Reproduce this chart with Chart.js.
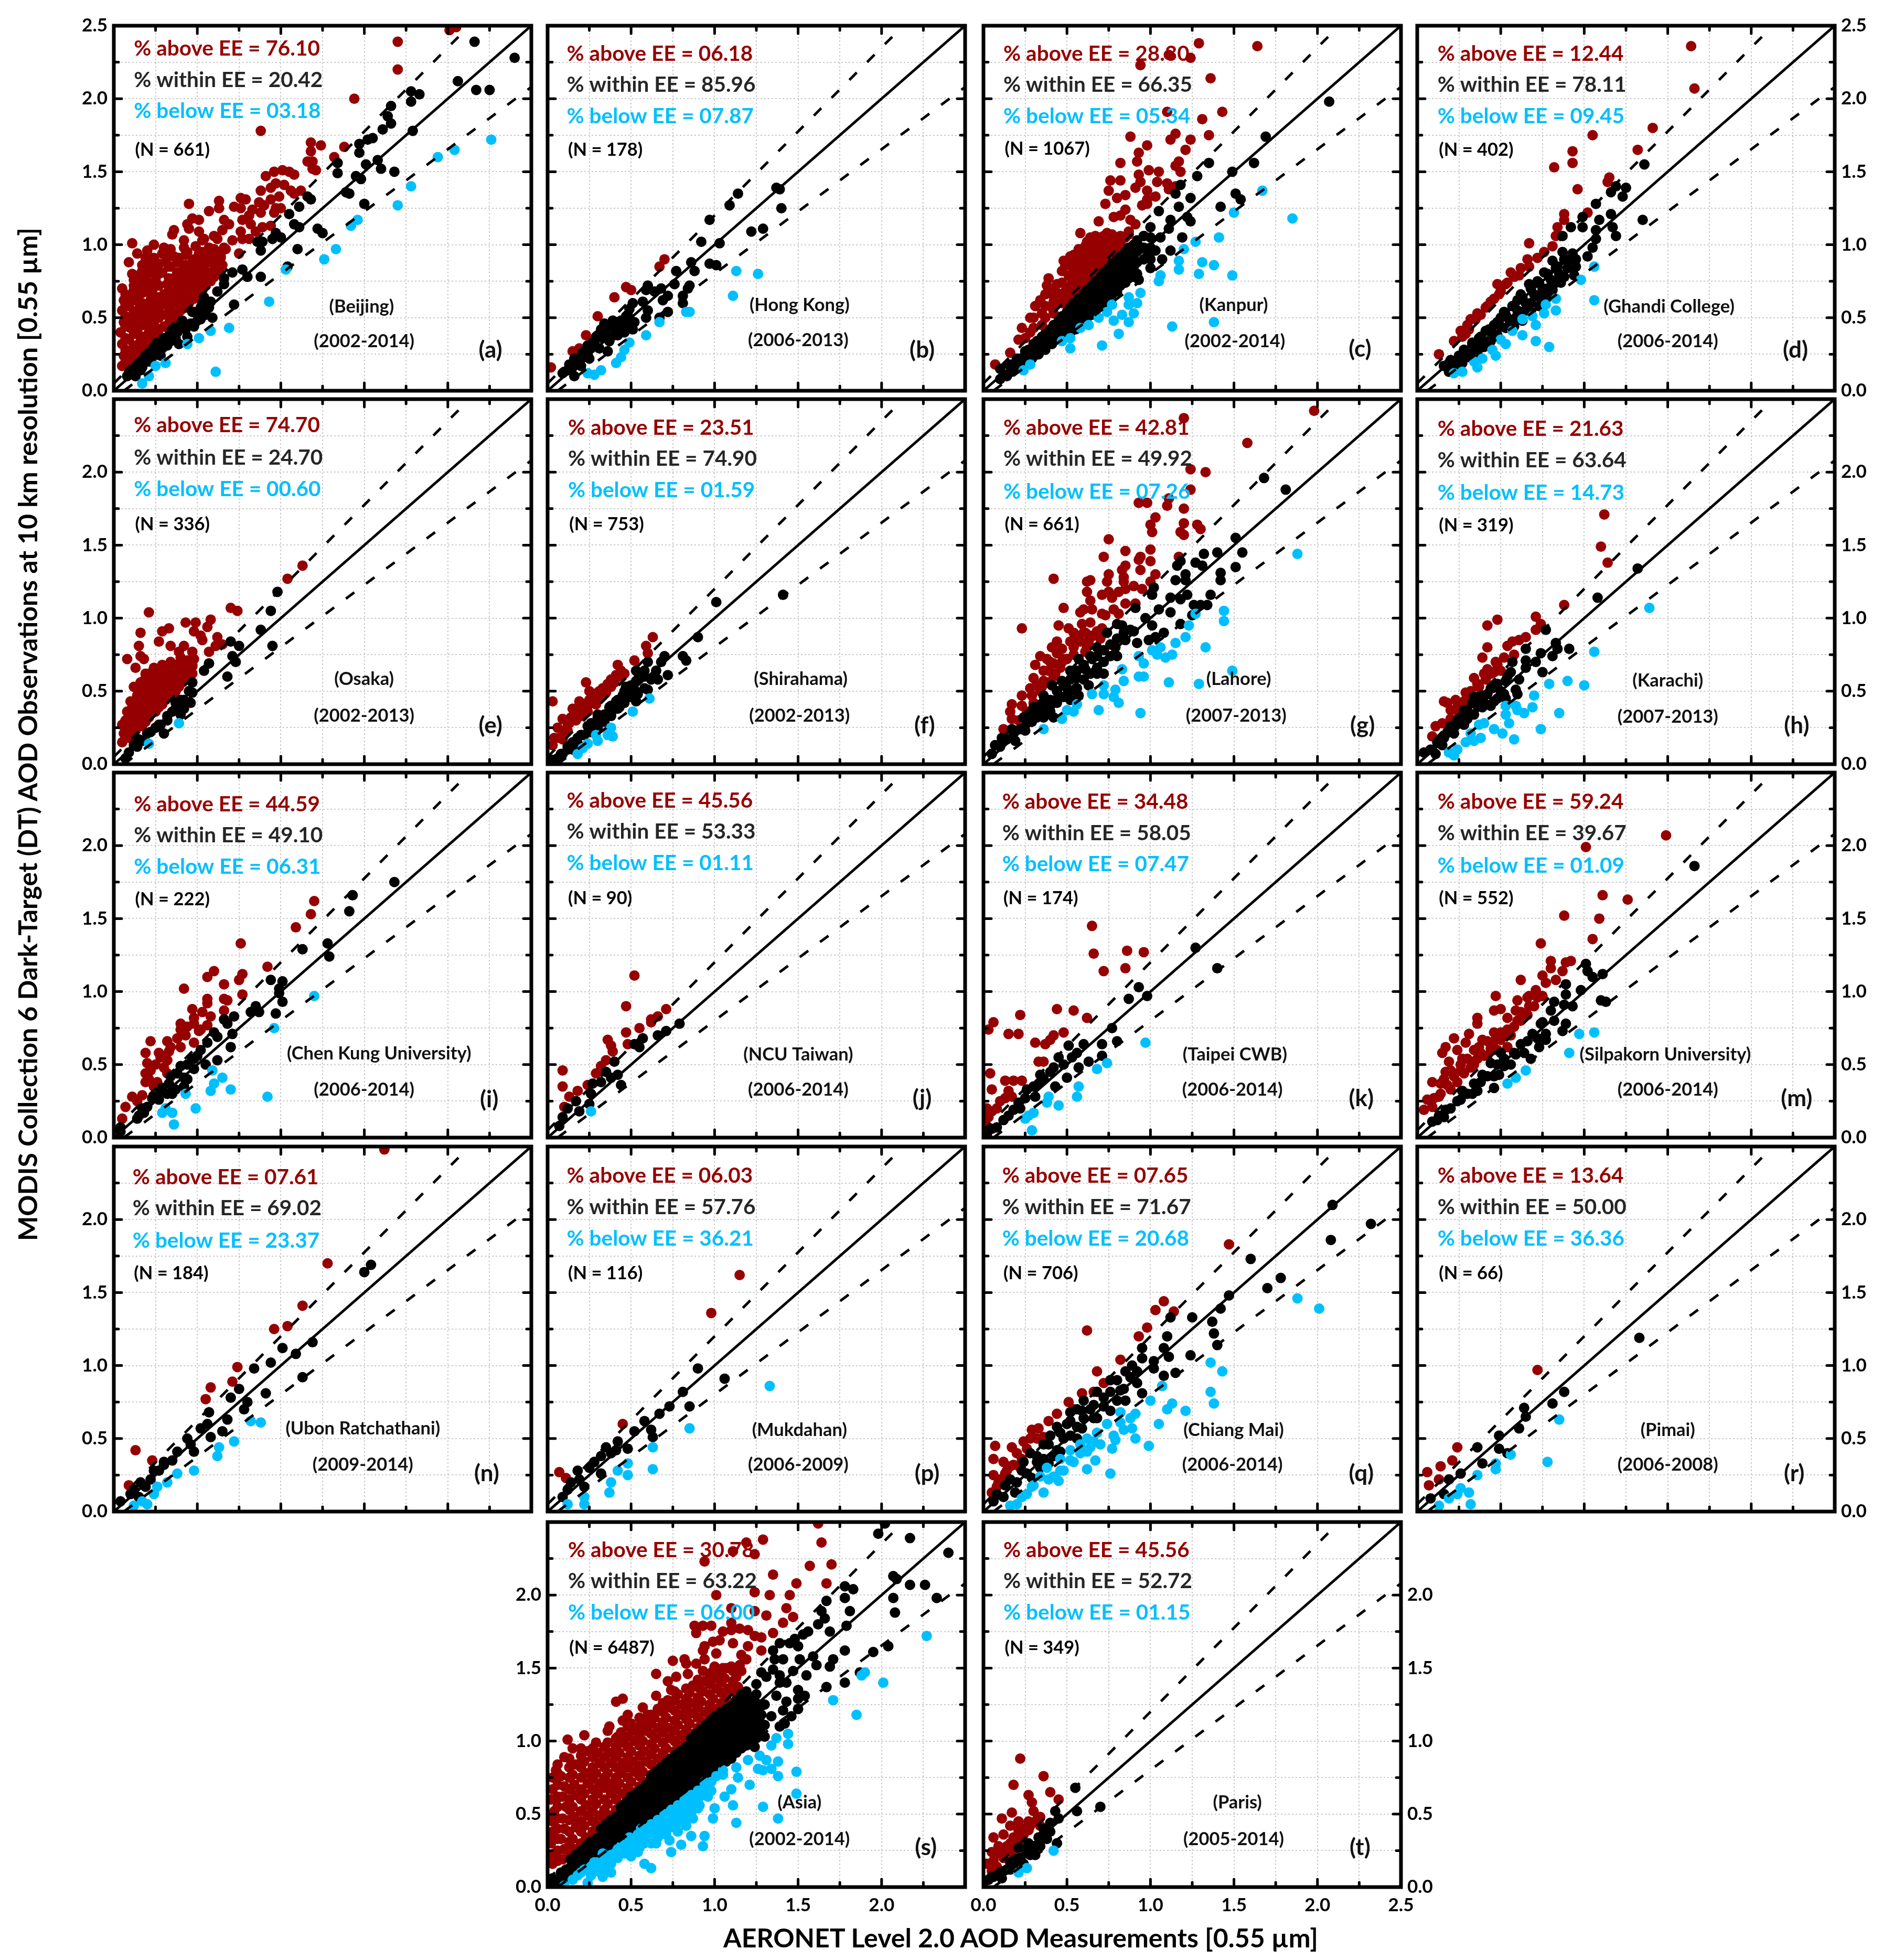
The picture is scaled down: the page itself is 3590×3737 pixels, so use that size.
<!DOCTYPE html>
<html>
<head>
<meta charset="utf-8">
<title>MODIS C6 DT vs AERONET</title>
<script src="https://cdn.jsdelivr.net/npm/chart.js@4"></script>
<style>
  html, body { margin: 0; background: #fff; }
  #page { position: relative; width: 3590px; height: 3737px; overflow: hidden; background: #fff; }
  canvas { position: absolute; }
  .axis-title { position: absolute; font: 700 50px Lato, sans-serif; color: #000; white-space: nowrap; }
</style>
</head>
<body>
<div id="page"></div>
<script>
// all scatter values are x,y pairs in hundredths of AOD
const aAbove = [201,247,205,249,170,239,170,220,144,200,88,178,118,170,124,168,118,164,138,167,132,160,116,157,119,157,119,152,121,151,91,147,96,150,101,151,105,150,108,148,97,142,94,139,88,137,102,141,106,137,108,135,112,137,99,133,94,131,87,129,76,132,79,131,63,130,63,125,45,128,57,123,72,126,76,125,83,124,90,127,97,125,100,125,96,122,88,122,81,120,77,117,82,114,89,112,94,113,85,109,76,109,81,104,77,104,71,103,47,118,51,117,44,114,45,111,36,110,35,107,42,103,66,117,69,114,65,110,60,106,51,109,53,103,67,97,75,94,11,101,14,94,9,88,20,96,24,100,30,98,34,97,42,98,51,94,59,96,64,91,5,17,6,24,5,32,4,40,6,47,5,55,6,62,5,70,10,20,11,27,9,35,10,43,11,50,9,58,10,65,12,72,11,80,15,26,16,34,14,41,16,49,15,56,14,64,16,71,15,79,17,86,20,32,21,40,19,47,20,55,22,62,20,70,19,77,21,85,19,91,25,38,24,46,26,54,25,61,23,68,25,76,26,84,24,91,30,44,31,52,29,59,30,66,32,73,29,81,31,88,29,94,35,48,34,56,36,64,35,71,37,78,34,85,36,92,40,55,41,63,39,70,40,77,42,84,39,91,45,60,44,68,46,74,45,81,47,88,44,95,50,66,49,72,51,79,50,85,52,92,49,99,55,72,56,78,54,85,55,92,57,98,54,104,60,78,61,84,59,91,60,97,62,104,65,86,64,92,66,98];
const aAboveFill = [7,20,7,28,7,36,7,44,7,51,7,59,7,66,12,24,12,31,12,39,12,47,12,54,12,62,12,69,12,76,17,30,17,37,17,45,17,52,17,60,17,67,17,75,17,82,22,36,22,44,22,51,22,58,22,66,22,73,22,81,22,88,27,42,27,50,27,57,27,64,27,72,27,80,27,87,33,46,33,54,33,62,33,69,33,77,33,85,33,92,38,52,38,60,38,67,38,74,38,81,38,88,43,57,43,65,43,72,43,79,43,86,43,93,48,63,48,70,48,77,48,83,48,90,53,69,53,75,53,82,53,88,53,95,58,75,58,81,58,88,58,94,63,82,63,88,63,95];
const aWithin = [216,239,240,228,206,212,217,206,225,206,178,205,183,203,178,198,166,195,164,188,166,183,161,179,179,178,155,173,152,172,147,169,147,163,151,155,158,158,160,152,168,150,134,156,134,149,145,147,148,145,139,136,141,135,150,128,116,133,118,131,111,126,105,121,108,114,111,112,122,111,125,108,110,97,97,108,100,105,95,104,89,102,86,102,88,96,104,85,77,83,80,78,71,81,66,77,66,73,88,78,54,64,58,61,52,57,47,54,72,59,59,50,52,49,48,44,43,44,39,44,44,37,39,32,33,38,26,33,21,26,17,21,9,12,13,10,8,10,10,14,13,12,14,18,17,16,19,24,21,20,24,30,26,26,28,24,30,36,32,31,35,42,37,36,41,48,43,42,48,54,50,48,53,60,55,52];
const aWithinFill = [12,11,16,14,23,23,29,29,34,34,38,40,46,46,51,52,57,57,62,68];
const aBelow = [226,172,204,165,194,160,178,140,170,127,146,117,142,113,133,97,126,90,103,83,93,61,69,43,58,41,51,36,44,32,31,19,25,17,21,10,17,5,61,13];

const bAbove = [2,16,15,27,19,29,23,38,30,51,40,64,47,71,50,69,67,85,70,90];
const bWithin = [139,138,137,139,140,125,114,135,109,127,97,117,122,109,129,111,92,102,103,101,86,88,97,87,101,86,77,82,88,82,76,73,85,72,84,70,81,65,81,60,72,65,72,54,68,70,69,62,60,72,59,69,64,68,57,61,60,55,59,50,67,50,51,60,49,56,52,47,51,42,47,51,44,48,47,45,41,47,43,42,38,44,40,38,35,42,37,34,32,42,33,36,30,38,36,27,28,33,31,29,26,29,25,22,21,26,19,22,16,22,13,18,20,17,9,12,16,10,12,14];
const bWithinFill = [22,27,27,33,24,31,33,40,29,37,36,36,41,42,39,48,34,46,44,44,46,40,42,38,48,52,18,20,24,25,15,16,10,13,20,22];
const bBelow = [113,82,126,80,111,65,83,54,85,54,67,47,59,38,49,33,46,28,44,23,41,19,32,14,28,11,24,12];

const cAbove = [129,238,164,236,111,230,124,228,94,223,136,214,110,191,143,191,131,186,135,175,88,174,115,176,112,172,124,172,121,165,98,168,93,163,92,157,82,156,117,157,115,154,118,150,99,151,105,150,93,148,76,144,82,144,104,143,94,143,91,139,110,142,115,140,111,138,75,137,80,132,85,134,98,137,103,133,98,131,73,128,95,127,98,128,85,124,82,120,78,119,69,116,88,117,91,114,87,109,7,18,16,26,21,35,23,43,28,50,28,40,34,62,35,53,35,45,41,66,39,77,41,57,44,60,44,73,44,67,49,68,51,79,49,86,50,62,48,89,55,69,56,75,54,81,56,87,54,93,58,108,60,75,61,81,59,87,60,93,61,99,65,81,64,87,66,93,65,99,64,105,70,87,71,93,69,99,70,105,74,108,75,93,76,99,74,104,80,98,79,103,85,105];
const cAboveFill = [25,36,30,43,30,50,31,58,37,50,37,58,37,66,38,72,42,53,42,61,42,70,47,60,47,66,47,74,47,82,52,65,52,72,52,78,52,86,52,92,57,71,57,78,57,84,57,90,57,97,62,78,62,84,62,90,62,96,62,102,67,83,67,89,67,95,67,101,67,106,72,89,72,95,72,101,72,106,77,96,77,102,77,107,82,101,82,106,87,107];
const cWithin = [207,198,169,174,162,156,135,156,149,150,128,147,118,141,115,135,124,132,151,135,154,131,142,126,117,126,105,123,122,119,112,117,124,116,100,112,111,111,106,105,119,105,96,106,112,96,103,96,93,99,98,92,107,90,91,87,100,84,86,92,82,83,93,76,10,8,10,15,14,10,15,18,18,14,20,22,21,17,24,19,25,27,27,23,29,22,30,32,31,27,33,25,35,37,35,31,37,28,40,42,40,36,41,32,45,48,45,42,45,37,50,54,49,47,50,41,54,60,55,53,55,47,55,42,60,66,60,59,60,52,60,47,65,72,65,65,65,58,65,52,70,78,70,71,70,64,70,58,75,84,75,77,75,70,75,63,80,90,80,83,80,76,80,68,85,95,85,88,85,80,85,74,90,100,90,93,90,85,90,78];
const cWithinFill = [12,11,17,18,17,13,22,22,22,17,27,28,32,34,32,29,37,39,37,34,42,45,42,39,42,34,47,51,47,45,47,39,52,57,52,51,52,45,52,40,57,63,57,56,57,50,57,45,62,69,62,62,62,56,62,50,67,75,67,68,67,62,67,55,72,81,72,74,72,68,72,60,77,87,77,80,77,73,77,66,82,92,82,86,82,79,82,72,87,98,87,91,87,84,87,77,92,103,92,96,92,88,92,80,96,106,96,98,96,90,100,105,100,98,100,90];
const cBelow = [185,118,167,137,150,122,141,105,127,102,120,97,117,89,117,83,131,88,138,86,129,80,149,79,106,79,105,75,94,67,87,64,87,59,92,60,77,59,74,54,90,53,83,52,69,50,87,47,78,48,63,45,58,43,138,47,113,44,81,39,52,36,47,34,52,29,71,31,28,18,24,14];

const dAbove = [164,236,166,207,141,180,105,175,93,164,132,165,93,156,82,153,115,146,114,143,96,138,102,122,88,121,88,117,84,112,83,106,67,101,81,99,76,95,72,91,67,85,56,81,61,79,48,73,53,73,49,66,44,61,41,57,36,53,30,45,32,49,26,41,22,34,13,25,29,39];
const dAboveFill = [27,37,31,42,35,49,38,52,42,58,46,63,50,68,54,74,58,78,62,84,66,90];
const dWithin = [136,155,125,139,119,140,116,136,123,133,107,128,135,117,116,121,109,117,99,119,92,112,99,112,117,112,107,110,119,106,87,106,107,104,105,98,102,92,87,95,91,90,81,89,95,85,84,85,94,79,76,81,86,74,72,75,81,69,67,73,62,66,75,64,68,60,60,62,66,55,57,58,60,52,52,54,56,47,50,50,53,43,46,45,48,38,41,41,44,34,37,36,40,30,33,32,36,26,28,28,31,23,25,24,27,19,20,21,23,16,16,17,19,13];
const dWithinFill = [19,19,22,20,25,23,28,28,30,25,33,33,35,30,33,26,38,37,40,34,38,30,43,42,45,39,43,34,48,47,50,44,48,38,53,52,55,49,53,43,58,58,60,55,58,49,58,44,63,64,65,60,63,54,63,48,68,70,70,66,68,60,68,54,73,74,75,70,73,64,73,58,78,80,80,76,78,70,78,64,83,84,85,80,83,74,88,90,90,84,88,78,93,94,95,90];
const dBelow = [106,85,98,76,106,62,83,63,77,59,83,55,76,53,69,51,63,49,71,45,63,38,57,41,50,35,71,34,79,30,53,32,45,28,47,24,39,22,34,20,36,16,27,13,22,12];

const eAbove = [113,136,104,127,70,107,74,105,21,104,58,99,43,97,49,97,33,93,56,94,29,91,16,90,48,91,52,88,62,87,27,84,15,81,53,85,34,81,42,81,65,82,61,81,39,77,47,77,57,77,16,74,8,72,18,72,40,73,48,72,29,68,13,66,40,68,32,67,47,67,5,15,6,21,5,27,9,18,10,24,9,30,8,36,10,43,13,23,14,29,12,35,13,41,14,47,12,53,17,26,18,32,16,38,17,44,18,50,16,56,19,62,21,32,22,38,20,44,21,50,23,56,21,62,25,36,26,42,24,48,25,54,26,60,24,66,29,41,30,47,28,53,29,59,31,65,33,46,34,52,32,58,33,64,34,70,37,50,38,56,36,62,37,68,41,56,42,62,40,68,45,60,46,66,44,71];
const eAboveFill = [7,24,7,30,11,21,11,27,11,33,11,39,15,26,15,32,15,38,15,44,15,50,19,29,19,35,19,41,19,47,19,53,19,59,23,35,23,41,23,47,23,53,23,59,27,39,27,45,27,51,27,57,27,63,31,44,31,50,31,56,31,62,35,48,35,54,35,60,35,66,39,53,39,59,39,65,43,58,43,64,43,69,47,62,47,68];
const eWithin = [98,118,94,105,88,92,70,84,75,81,95,81,71,74,73,70,57,69,54,64,68,60,47,56,47,49,40,44,46,42,39,38,40,34,32,30,25,25,30,21,20,21,15,17,9,8,7,4,14,12,35,36,28,27];
const eWithinFill = [12,13,17,16,22,22,27,27,32,33,37,38,37,42,42,44,45,50,42,38];
const eBelow = [39,28,21,14];

const fAbove = [63,87,59,81,60,76,52,71,42,68,46,62,23,56,38,53,25,50,30,49,3,43,19,43,33,47,15,38,9,31,6,25,4,18,3,13,24,36,17,30,12,23,9,17,20,33,29,41,35,49,40,56,43,60,28,48,14,32];
const fAboveFill = [7,18,10,23,13,28,16,33,19,38,22,41,25,44,28,46,31,50,33,52,36,55,12,28,18,34,24,40,30,44,34,48,38,58,41,61,44,64];
const fWithin = [101,111,141,116,90,87,81,74,83,71,70,74,68,70,60,70,53,64,72,61,65,64,66,58,58,60,53,57,60,51,52,51,53,43,45,47,43,39,37,39,38,33,30,32,27,25,20,20,12,10,6,4,15,15,24,26,34,34,47,53,3,3,9,7,18,18,30,25,41,43];
const fWithinFill = [8,7,12,12,15,10,18,14,22,20,26,22,26,28,30,28,30,34,34,29,38,34,38,40,42,38,42,44,46,42,46,50,50,46,50,54,54,48,54,58,58,52,58,64,62,58];
const fBelow = [61,45,51,36,38,25,29,20,39,19,36,20,30,16,24,14,21,11,18,7];

const gAbove = [198,242,158,220,120,237,124,202,133,200,124,188,111,182,110,177,93,179,98,179,120,175,103,169,100,164,101,159,120,165,128,164,130,161,118,159,120,157,75,154,100,147,85,146,72,142,94,142,93,140,100,139,117,142,85,136,83,133,94,133,75,130,42,127,84,128,103,130,62,125,64,126,74,125,84,125,100,125,90,122,95,120,85,120,62,118,75,118,81,118,71,116,77,114,64,112,85,110,91,110,48,107,60,106,58,104,65,106,71,103,78,106,81,103,73,102,23,93,45,95,59,96,64,97,71,93,51,93,34,74,31,68,41,80,44,84,54,90,61,90,68,91,30,59,28,52,23,47,17,41,16,36,17,31,12,24,7,13,38,72,47,79,55,83,63,84,39,64,47,70,54,75,61,77,36,57,43,62,29,47,35,53,23,40,27,35,21,30,42,69];
const gAboveFill = [26,36,30,42,34,50,38,56,42,60,46,66,50,72,54,80,58,84,62,80,66,88,70,86,32,54,36,64,40,70,44,76,48,72,52,84,56,88,60,90,64,88];
const gWithin = [168,196,181,188,151,155,155,145,140,145,132,144,151,135,127,138,131,136,118,139,116,136,142,131,142,126,121,130,115,126,121,126,102,121,101,116,122,116,136,116,112,114,118,113,134,109,130,109,126,109,105,106,125,102,112,104,91,107,97,100,101,95,118,96,108,90,103,87,99,85,92,83,83,95,80,96,90,91,74,90,85,85,79,80,68,80,65,72,72,70,57,72,61,65,68,62,52,64,56,59,63,54,47,57,50,52,57,47,41,54,45,47,52,44,36,47,40,40,42,32,30,39,36,32,27,34,29,29,17,24,25,23,11,18,7,13,19,16,5,7];
const gWithinFill = [10,12,14,17,18,21,22,24,26,28,24,32,28,33,32,32,32,38,36,36,36,42,40,44,40,36,44,42,44,50,48,46,48,54,52,50,52,58,56,52,56,64,60,58,60,68,64,62,64,74,68,66,68,74,72,78,72,62,76,74,76,82,80,86,80,74,84,90,88,92];
const gBelow = [188,144,144,105,144,98,127,103,123,95,121,87,115,83,133,80,106,80,101,78,113,75,109,73,104,75,93,74,96,69,149,64,83,65,93,60,96,60,111,56,129,55,84,57,79,51,72,54,65,48,72,48,78,46,81,42,69,37,94,35,56,41,50,37,54,36,47,31,36,24];

const hAbove = [112,171,110,149,114,138,88,109,71,101,74,96,71,92,48,99,42,95,65,87,61,85,57,84,54,81,58,75,42,80,39,73,52,73,47,70,42,65,50,64,46,63,34,59,41,58,37,53,29,49,23,44,16,43,18,42,32,43,20,37,25,35,20,31,15,28,11,26,9,19];
const hAboveFill = [24,39,28,43,32,50,36,55,40,62,44,62,48,68];
const hWithin = [132,134,108,114,77,92,83,83,84,79,65,79,91,79,74,76,81,74,71,70,65,71,75,63,65,66,57,70,61,58,56,63,60,48,59,51,53,57,50,50,45,52,53,45,39,47,46,43,33,42,39,39,28,37,33,34,24,30,28,27,20,26,22,21,14,17,15,13,11,7,4,8,8,10];
const hWithinFill = [12,15,16,18,18,22,22,25,24,28,26,32,30,31,30,37,34,34,36,40,36,46,40,42,42,48,44,40,44,52,48,45,48,55,52,48,54,60,34,46];
const hBelow = [139,107,106,77,79,55,90,57,100,54,70,47,69,39,85,35,64,35,59,40,60,37,53,40,53,34,55,28,74,24,46,24,51,21,58,17,40,28,37,27,32,21,38,18,34,16,29,15,24,10,19,8,22,6];

const iAbove = [120,162,118,153,109,144,76,133,92,117,60,114,56,110,77,112,75,108,66,105,42,102,77,98,56,95,66,95,68,94,56,92,66,87,47,88,53,86,58,83,48,82,40,78,56,77,40,74,51,73,43,70,22,66,32,66,48,65,40,62,33,59,19,58,27,58,20,51,32,53,19,44,19,38,32,44,26,38,11,28,7,21,5,13,17,29,14,25];
const iAboveFill = [21,40,22,46,25,50,28,55,34,62,38,68,44,76,48,78,52,74,24,35,30,48];
const iWithin = [168,175,143,166,141,155,128,133,113,129,129,124,94,108,101,107,99,102,99,99,101,93,85,90,82,86,87,86,97,85,72,83,66,81,68,78,60,72,71,71,62,69,70,62,56,65,52,60,62,53,55,50,48,47,47,54,40,49,42,41,42,35,34,42,29,34,35,30,25,28,20,21,14,13,4,7,4,4,18,17];
const iWithinFill = [15,15,17,20,23,27,28,31,33,37,38,44,44,50,48,54,27,26,32,30,37,33,44,40,50,56];
const iBelow = [120,97,96,75,59,46,65,41,60,37,70,33,58,32,92,28,43,30,49,20,31,20,29,17,35,17,36,9];

const jAbove = [52,111,47,90,71,88,66,83,62,81,62,79,55,75,47,72,36,67,38,63,48,64,39,59,35,53,32,49,29,44,9,46,9,35,24,36,18,32,13,28,10,21];
const jWithin = [79,78,71,73,66,70,57,68,52,64,55,62,40,52,35,45,42,43,38,41,32,38,27,37,44,36,26,30,17,25,25,23,12,20,19,18,9,14,7,8];
const jBelow = [26,18];

const kAbove = [65,145,66,126,86,128,96,127,85,116,72,114,44,88,54,87,62,82,22,84,6,79,3,74,15,71,21,71,48,72,42,70,40,67,31,65,37,64,33,52,36,52,4,44,13,39,18,39,23,39,5,33,15,32,13,27,2,20,8,20,3,14,17,28,1,9,5,18,10,25];
const kWithin = [127,130,140,116,93,103,98,97,87,95,77,75,51,63,60,64,71,64,80,66,56,58,71,56,45,55,63,52,48,50,57,48,50,41,40,45,34,43,43,35,33,37,26,33,31,28,21,24,18,19,12,12,5,6,2,2,8,7,15,15,22,20,25,27,30,35,36,40,42,48,53,55];
const kBelow = [97,65,74,51,68,47,57,35,56,28,39,28,38,24,45,22,30,17,27,15,25,13,29,5];

const mAbove = [149,207,101,199,111,166,126,163,88,152,109,150,105,136,74,133,80,121,92,121,89,120,80,116,62,108,87,114,75,111,83,108,77,106,47,97,71,101,75,97,67,97,60,94,46,87,50,88,36,82,36,78,59,87,67,90,54,82,62,80,31,71,22,68,46,72,54,74,39,67,50,67,29,65,17,62,24,60,37,62,44,61,15,58,19,52,27,54,36,54,17,45,26,46,32,48,9,38,24,38,14,37,6,26,13,28,20,33,4,19,9,21,42,56,48,60,56,70];
const mAboveFill = [10,27,14,30,18,36,22,42,26,50,30,54,34,60,38,58,42,66,46,66,50,72,54,70,58,76,62,86,66,84,70,90,20,46,16,40,28,44,34,50,40,56,46,60,54,62,60,80,66,96,72,96];
const mWithin = [166,186,101,119,102,114,111,112,105,110,89,105,98,101,89,98,110,94,113,93,88,91,93,90,82,93,80,87,75,79,82,80,89,78,87,73,77,71,69,71,77,67,73,62,62,64,59,57,68,54,50,58,52,49,44,51,49,43,39,43,46,34,34,37,27,32,24,25,17,19,9,11,13,15,33,30];
const mWithinFill = [12,12,16,14,20,20,26,26,30,30,36,32,38,38,42,42,46,42,48,50,52,54,56,50,58,58,64,58,66,66,72,68,74,78];
const mBelow = [97,71,106,72,91,58,65,46,59,41,54,37];

const nAbove = [162,248,128,170,113,141,104,127,96,125,74,99,71,89,58,85,55,77,13,42,23,35,9,18];
const nWithin = [154,169,150,164,119,116,101,112,109,108,94,102,84,98,113,92,75,84,91,81,70,78,80,75,78,70,57,68,68,63,52,57,65,55,58,51,46,46,38,41,35,35,27,28,22,22,12,15,4,7,19,17,48,41,15,10,30,32,10,12,16,20,24,28,30,34,44,50,56,60];
const nBelow = [82,62,88,61,72,48,63,44,62,38,48,28,38,26,32,20,26,17,24,12,17,7,12,4,20,5];

const pAbove = [115,162,98,136,45,60,7,27,11,23];
const pWithin = [90,98,106,91,81,82,85,72,73,72,67,67,52,55,62,56,63,51,48,43,35,44,32,38,25,30,32,26,19,22,12,15,22,17,9,10,58,62,41,42,14,20,18,28,28,34,38,40,42,48];
const pBelow = [133,86,85,57,63,44,63,29,48,33,48,25,38,20,37,13,22,10,22,5,12,5,42,28];

const qAbove = [147,183,108,144,103,138,114,137,62,124,98,126,93,120,82,104,68,96,72,88,66,82,59,81,51,75,54,70,39,62,29,56,36,51,7,45,17,44,24,48,26,43,6,36,23,36,16,31,6,25,13,26,9,20,5,13,44,67,33,57,8,17,12,34,10,22,14,28,18,32,22,30,20,40,28,50,32,50];
const qWithin = [209,210,232,197,208,186,160,173,178,160,170,153,147,148,142,139,125,133,112,133,137,130,138,122,110,120,140,114,95,112,108,112,124,107,111,106,95,105,102,103,89,100,102,98,115,95,108,93,85,96,76,90,92,88,82,83,95,81,72,78,85,76,66,73,76,69,59,69,66,64,52,62,59,57,46,54,56,50,39,46,46,41,32,38,39,33,23,28,29,23,13,18,19,13,6,7,52,52,42,38,34,30];
const qWithinFill = [8,12,12,10,16,22,20,20,24,34,26,26,28,40,32,34,36,46,36,36,40,52,44,42,44,58,48,50,50,60,52,68,56,58,56,70,60,64,60,76,64,70,68,82,68,64,72,72,76,82,80,76,80,90,84,84,88,92,92,96];
const qBelow = [188,146,201,139,136,102,143,96,107,86,136,82,138,74,100,76,113,74,110,70,121,69,91,67,105,60,82,61,89,57,91,50,99,45,79,49,77,43,66,48,62,41,67,35,76,26,52,35,62,29,46,28,39,22,45,21,29,17,23,10,16,4,36,13,20,5,26,12,30,18,34,24,38,30,42,24,46,36,48,28,52,42,54,34,58,46,58,40,62,50,64,44,68,54,70,46,74,60,78,52,82,68,84,56,88,64];

const rAbove = [72,97,24,44,21,35,14,31,6,27,13,22,7,18];
const rWithin = [133,119,88,82,81,74,64,71,65,65,61,57,49,52,49,43,36,44,54,40,39,33,26,26,19,22,8,9,16,12];
const rBelow = [85,63,78,34,56,39,47,33,47,29,36,25,31,13,24,12,32,5,19,9,13,4,26,16];

const sAbove = [162,249,164,236,129,238,119,236,111,230,124,228,94,223,170,221,157,220,135,214,149,208,167,208,124,202,101,200,145,200,133,200,110,191,143,191,124,189,131,186,147,185,141,181,88,179,93,179,98,179,89,174,110,181,135,174,105,175,115,177,120,176,110,176,124,172,128,171,103,169,99,168,94,165,111,167,120,165,128,162,93,162,101,160,94,156,75,155,82,156,116,159,119,156,89,153,65,146,83,153,110,151,100,151,105,150,93,148,84,146,77,144,72,141,116,148,74,135,65,131,45,129,41,127,57,123,61,117,48,118,45,114,37,110,36,107,22,104,12,101,15,95,10,89,29,99,42,103,5,80,3,75,6,61,3,47,3,36,2,21,3,16,4,23,2,30,3,38,3,45,4,52,2,60,3,67,9,19,10,26,8,33,10,40,9,47,11,55,9,62,10,69,8,76,16,26,15,33,17,41,16,48,15,55,17,63,16,70,15,77,17,84,23,34,22,42,24,49,23,56,22,64,24,71,23,78,22,86,24,93,30,42,31,49,29,57,30,64,31,71,29,78,31,85,30,92,37,49,36,57,38,64,37,71,36,78,38,85,37,92,36,99,44,56,45,64,43,71,44,78,45,85,43,92,45,99,44,106,51,65,50,72,52,79,51,86,50,93,52,100,51,107,50,112,58,72,57,79,59,86,58,93,57,100,59,107,58,113,60,118,65,81,66,88,64,95,65,102,66,109,64,116,66,122,72,88,71,95,73,102,72,109,71,116,73,123,72,128,79,97,80,104,78,111,79,118,80,125,78,132,86,105,85,112,87,119,86,126,85,133,87,138,93,113,94,120,92,127,93,134,94,141,100,122,99,129,101,136,100,143,99,148,107,129,108,136,106,143,107,150,114,137,113,144,115,152];
const sAboveFill = [6,18,6,25,6,33,6,40,6,47,6,55,6,62,6,70,6,78,6,84,13,24,13,31,13,38,13,46,13,53,13,60,13,67,13,75,13,82,13,88,20,30,20,38,20,45,20,52,20,60,20,67,20,75,20,82,20,90,20,95,27,38,27,45,27,52,27,60,27,67,27,74,27,82,27,89,27,95,34,46,34,53,34,60,34,68,34,75,34,82,34,89,34,96,41,53,41,60,41,67,41,75,41,82,41,89,41,96,41,102,48,61,48,68,48,75,48,82,48,89,48,96,48,103,48,110,55,69,55,76,55,83,55,90,55,97,55,104,55,110,55,116,62,77,62,84,62,91,62,98,62,105,62,112,62,118,69,85,69,92,69,99,69,106,69,113,69,120,69,126,76,93,76,100,76,107,76,114,76,121,76,128,76,134,83,101,83,108,83,115,83,122,83,129,83,136,90,109,90,116,90,123,90,130,90,137,90,142,97,118,97,125,97,132,97,139,97,146,104,126,104,133,104,140,104,147,111,134,111,141,111,148];
const sWithin = [202,249,198,242,217,239,240,229,207,213,209,211,178,206,183,204,217,207,226,207,233,198,178,198,207,198,167,196,164,189,181,189,208,188,166,184,179,179,162,180,169,175,156,175,153,173,148,170,139,167,145,167,150,165,178,162,195,161,204,165,135,162,136,156,141,156,151,156,159,158,161,152,171,156,169,151,128,147,135,149,147,148,139,145,131,144,155,145,187,147,178,140,167,137,139,140,143,140,125,139,150,135,154,131,150,129,143,127,137,131,130,125,150,122,141,121,146,117,134,117,126,115,142,112,130,111,139,110,125,102,130,103,120,103,124,96,118,107,3,2,3,6,8,4,8,10,14,8,14,14,14,19,20,13,20,19,20,25,26,18,26,24,26,30,32,23,32,29,32,35,32,40,38,28,38,34,38,40,38,46,44,33,44,39,44,45,44,51,44,55,50,38,50,44,50,50,50,56,50,62,56,43,56,49,56,55,56,61,56,67,62,48,62,54,62,60,62,66,62,72,62,76,68,53,68,59,68,65,68,71,68,77,68,82,74,58,74,64,74,70,74,76,74,82,74,88,80,63,80,69,80,75,80,81,80,87,80,93,86,68,86,74,86,80,86,86,86,92,86,98,86,102,92,73,92,79,92,85,92,91,92,97,92,103,92,108,98,78,98,84,98,90,98,96,98,102,98,108,98,114,104,83,104,89,104,95,104,101,104,107,104,113,104,120,110,88,110,94,110,100,110,106,110,112,110,118,110,124,116,95,116,101,116,107,116,113,116,119,116,125,116,132,122,100,122,106,122,112,122,118,122,124,122,130,128,105,128,112,128,118,128,124];
const sWithinFill = [11,6,11,12,17,11,17,17,17,22,23,16,23,22,23,28,29,21,29,27,29,33,35,26,35,32,35,38,35,43,41,31,41,37,41,43,41,48,47,36,47,42,47,48,47,54,47,58,53,41,53,47,53,53,53,59,53,64,59,46,59,52,59,58,59,64,59,70,65,51,65,57,65,63,65,69,65,75,65,79,71,56,71,62,71,68,71,74,71,80,71,85,77,61,77,67,77,73,77,79,77,85,77,91,83,66,83,72,83,78,83,84,83,90,83,96,89,71,89,77,89,83,89,89,89,95,89,101,89,105,95,76,95,82,95,88,95,94,95,100,95,106,95,111,101,81,101,87,101,93,101,99,101,105,101,111,101,117,107,86,107,92,107,98,107,104,107,110,107,116,107,122,113,92,113,98,113,104,113,110,113,116,113,122,113,128,119,97,119,103,119,109,119,115,119,121,119,127,119,134,125,102,125,108,125,114,125,120,125,126,125,132];
const sBelow = [227,172,188,145,190,147,201,140,171,128,185,118,144,105,137,102,144,98,134,97,127,90,138,86,131,87,149,79,126,81,134,81,129,80,138,76,120,87,113,82,105,80,114,75,121,70,110,67,149,64,106,62,105,77,101,76,129,55,111,56,100,54,138,47,113,44,99,47,94,35,93,28,62,13,58,16,74,24,80,29,86,35,87,47,94,72,96,62,91,56,92,64,85,62,82,52,76,44,83,42,71,36,65,30,73,32,58,30,64,42,56,40,50,21,49,34,44,28,38,10,40,23,33,23,33,7,28,17,24,3,20,10,15,5,10,1,55,27];
const sBelowFill = [18,8,22,12,26,14,26,8,30,17,30,11,34,19,34,13,38,22,38,16,42,26,42,20,46,29,46,23,50,33,50,27,54,36,54,30,54,24,58,40,58,34,62,43,62,37,62,30,66,46,66,40,66,34,70,50,70,44,70,38,74,53,74,47,74,41,78,56,78,50,78,44,78,38,82,60,82,56,82,47,86,63,86,57,86,51,90,66,90,60,90,54,94,69,94,63,98,72,98,66];

const tAbove = [22,88,36,76,18,70,40,65,27,63,45,60,29,58,17,51,30,52,11,47,34,48,21,45,27,45,6,34,16,42,21,39,27,39,34,42,12,36,18,34,23,33,9,28,14,28,19,28,5,24,10,23,16,24,2,16,6,18,5,11,8,14,12,20,16,30,20,34,24,36,28,42,22,30,18,25,12,24,24,40,32,46];
const tWithin = [55,68,56,52,70,55,43,52,45,47,40,44,36,40,38,33,44,30,33,34,32,28,27,30,31,22,26,23,21,27,19,19,16,17,12,11,8,8,3,5,11,6,16,12,6,7,10,10,14,12,18,15,22,20,26,26,30,28,34,28,36,36,40,38,24,16,28,22];
const tBelow = [42,25,26,13,21,10];

// reference lines, same hundredths: x0,y0,x1,y1
const oneToOne = [0,0,250,250];
const eeUpper = [0,5,213,250];
const eeLower = [6,0,250,208];

const panelTags = ['(a)','(b)','(c)','(d)','(e)','(f)','(g)','(h)','(i)','(j)','(k)','(m)','(n)','(p)','(q)','(r)','(s)','(t)'];
const siteNames = ['(Beijing)','(Hong Kong)','(Kanpur)','(Ghandi College)','(Osaka)','(Shirahama)','(Lahore)','(Karachi)','(Chen Kung University)','(NCU Taiwan)','(Taipei CWB)','(Silpakorn University)','(Ubon Ratchathani)','(Mukdahan)','(Chiang Mai)','(Pimai)','(Asia)','(Paris)'];
const periods = ['(2002-2014)','(2006-2013)','(2002-2014)','(2006-2014)','(2002-2013)','(2002-2013)','(2007-2013)','(2007-2013)','(2006-2014)','(2006-2014)','(2006-2014)','(2006-2014)','(2009-2014)','(2006-2009)','(2006-2014)','(2006-2008)','(2002-2014)','(2005-2014)'];
const pctAbove = ['76.10','06.18','28.30','12.44','74.70','23.51','42.81','21.63','44.59','45.56','34.48','59.24','07.61','06.03','07.65','13.64','30.78','45.56'];
const pctWithin = ['20.42','85.96','66.35','78.11','24.70','74.90','49.92','63.64','49.10','53.33','58.05','39.67','69.02','57.76','71.67','50.00','63.22','52.72'];
const pctBelow = ['03.18','07.87','05.34','09.45','00.60','01.59','07.26','14.73','06.31','01.11','07.47','01.09','23.37','36.21','20.68','36.36','06.00','01.15'];
const sampleN = ['661','178','1067','402','336','753','661','319','222','90','174','552','184','116','706','66','6487','349'];

const aboveSeries = [aAbove.concat(aAboveFill),bAbove,cAbove.concat(cAboveFill),dAbove.concat(dAboveFill),eAbove.concat(eAboveFill),fAbove.concat(fAboveFill),gAbove.concat(gAboveFill),hAbove.concat(hAboveFill),iAbove.concat(iAboveFill),jAbove,kAbove,mAbove.concat(mAboveFill),nAbove,pAbove,qAbove,rAbove,sAbove.concat(sAboveFill),tAbove];
const withinSeries = [aWithin.concat(aWithinFill),bWithin.concat(bWithinFill),cWithin.concat(cWithinFill),dWithin.concat(dWithinFill),eWithin.concat(eWithinFill),fWithin.concat(fWithinFill),gWithin.concat(gWithinFill),hWithin.concat(hWithinFill),iWithin.concat(iWithinFill),jWithin,kWithin,mWithin.concat(mWithinFill),nWithin,pWithin,qWithin.concat(qWithinFill),rWithin,sWithin.concat(sWithinFill),tWithin];
const belowSeries = [aBelow,bBelow,cBelow,dBelow,eBelow,fBelow,gBelow,hBelow,iBelow,jBelow,kBelow,mBelow,nBelow,pBelow,qBelow,rBelow,sBelow.concat(sBelowFill),tBelow];

// layout, page pixels
const colLeft = [217, 1044, 1875, 2702];
const rowTop = [49, 761, 1473, 2186, 2902];
const plotW = 796, plotH = 696, margin = 100;
const panelCol = [0,1,2,3,0,1,2,3,0,1,2,3,0,1,2,3,1,2];
const panelRow = [0,0,0,0,1,1,1,1,2,2,2,2,3,3,3,3,4,4];

// text anchors measured on the 1505px wide view, scaled by px
const px = 3590 / 1505;
const statX = [107,453,802,1149,107,454,802,1149,107,453,801,1149,106,453,801,1149,454,802];
const statY = [[39,64,89,120],[43,68,93,120],[43,68,93,119],[43,68,93,120],[340,366,391,419],[342,367,392,419],[342,367,393,419],[343,368,394,420],[643,668,693,719],[640,665,690,718],[641,666,691,718],[641,666,692,718],[941,966,992,1018],[940,965,990,1018],[940,965,990,1018],[940,965,990,1018],[1239,1264,1289,1317],[1239,1264,1289,1317]];
const siteXY = [[289,245],[639,244],[986,244],[1334,245],[291,543],[640,543],[990,543],[1333,544],[303,842],[638,843],[987,843],[1331,843],[290,1142],[639,1143],[986,1143],[1333,1143],[639,1441],[989,1441]];
const periodXY = [[291,273],[638,272],[987,273],[1333,273],[291,572],[639,572],[988,572],[1333,573],[291,871],[638,871],[985,871],[1333,871],[290,1171],[638,1171],[985,1171],[1333,1171],[639,1470],[986,1470]];
const tagXY = [[392,280],[737,280],[1087,279],[1435,280],[392,580],[739,580],[1089,580],[1436,580],[391,879],[737,878],[1088,878],[1436,878],[389,1178],[741,1178],[1088,1178],[1434,1178],[740,1477],[1087,1477]];

const RED = '#960000', DARK = '#262626', BLUE = '#00BFFF';
const FONT = 'Lato, sans-serif';

function toPoints(pairs) {
    const pts = [];
    for (let i = 0; i < pairs.length; i += 2) pts.push({ x: pairs[i] / 100, y: pairs[i + 1] / 100 });
    return pts;
}

function tickLabel(showTop) {
    return v => {
        const h = Math.round(v * 100);
        if (h % 50 !== 0) return '';
        if (h === 250 && !showTop) return '';
        return (h / 100).toFixed(1);
    };
}

// frame, inward ticks and the panel's texts
function panelDecor(i, canvasLeft, canvasTop) {
    return {
        id: 'panelDecor',
        afterDatasetsDraw(chart) {
            const { ctx, chartArea: a, scales } = chart;
            ctx.save();
            ctx.strokeStyle = '#000';
            ctx.lineCap = 'round';
            ctx.lineWidth = 5;
            for (let k = 1; k < 10; k++) {
                const len = k % 2 === 0 ? 15 : 9;
                const xp = scales.x.getPixelForValue(k * 0.25);
                const yp = scales.y.getPixelForValue(k * 0.25);
                ctx.beginPath();
                ctx.moveTo(xp, a.bottom); ctx.lineTo(xp, a.bottom - len);
                ctx.moveTo(xp, a.top); ctx.lineTo(xp, a.top + len);
                ctx.moveTo(a.left, yp); ctx.lineTo(a.left + len, yp);
                ctx.moveTo(a.right, yp); ctx.lineTo(a.right - len, yp);
                ctx.stroke();
            }
            ctx.lineCap = 'butt';
            ctx.lineWidth = 7;
            ctx.strokeRect(a.left, a.top, a.right - a.left, a.bottom - a.top);

            const put = (text, x, y, color, size, align) => {
                ctx.font = `700 ${size}px ${FONT}`;
                ctx.fillStyle = color;
                ctx.textAlign = align;
                ctx.textBaseline = 'middle';
                ctx.fillText(text, x * px - canvasLeft, y * px - canvasTop);
            };
            put(`% above EE = ${pctAbove[i]}`, statX[i], statY[i][0], RED, 40.5, 'left');
            put(`% within EE = ${pctWithin[i]}`, statX[i], statY[i][1], DARK, 40.5, 'left');
            put(`% below EE = ${pctBelow[i]}`, statX[i], statY[i][2], BLUE, 40.5, 'left');
            put(`(N = ${sampleN[i]})`, statX[i] + 1, statY[i][3], '#000', 34.5, 'left');
            put(siteNames[i], siteXY[i][0], siteXY[i][1], '#111', 34.5, 'center');
            put(periods[i], periodXY[i][0], periodXY[i][1], '#111', 34.5, 'center');
            put(panelTags[i], tagXY[i][0], tagXY[i][1], '#111', 44, 'center');
            ctx.restore();
        }
    };
}

function scatterSet(pairs, color, order) {
    return { data: toPoints(pairs), backgroundColor: color, borderColor: color, pointRadius: 10, pointBorderWidth: 0, showLine: false, order };
}

function lineSet(pair, dash) {
    return { data: toPoints(pair), borderColor: '#000', borderWidth: 5, borderDash: dash, pointRadius: 0, showLine: true, order: 0 };
}

function createPanel(i) {
    const col = panelCol[i], row = panelRow[i];
    const left = colLeft[col] - margin, top = rowTop[row] - margin;
    const leftLabels = col === 0 || i === 16;
    const rightLabels = col === 3 || i === 17;
    const bottomLabels = row === 4;

    const canvas = document.createElement('canvas');
    canvas.width = plotW + margin * 2;
    canvas.height = plotH + margin * 2;
    canvas.style.left = left + 'px';
    canvas.style.top = top + 'px';
    document.getElementById('page').appendChild(canvas);

    const tickFont = { family: FONT, size: 35, weight: '700' };
    const gridStyle = { color: '#c9c9c9', lineWidth: 2, drawTicks: false };
    new Chart(canvas.getContext('2d'), {
        type: 'scatter',
        data: {
            datasets: [
                scatterSet(aboveSeries[i], RED, 3),
                scatterSet(withinSeries[i], '#000', 2),
                scatterSet(belowSeries[i], BLUE, 1),
                lineSet(oneToOne, []),
                lineSet(eeUpper, [20, 28]),
                lineSet(eeLower, [20, 28])
            ]
        },
        options: {
            responsive: false,
            devicePixelRatio: 1,
            animation: false,
            layout: { padding: { top: margin } },
            plugins: { legend: { display: false }, tooltip: { enabled: false } },
            scales: {
                x: {
                    min: 0, max: 2.5, position: 'bottom',
                    grid: gridStyle,
                    border: { display: false, dash: [3, 4] },
                    ticks: { display: bottomLabels, stepSize: 0.25, autoSkip: false, maxRotation: 0, padding: 14, color: '#000', font: tickFont, callback: tickLabel(i === 17) },
                    afterFit: s => { s.height = margin; }
                },
                y: {
                    min: 0, max: 2.5, position: 'left',
                    grid: gridStyle,
                    border: { display: false, dash: [3, 4] },
                    ticks: { display: leftLabels, stepSize: 0.25, autoSkip: false, padding: 12, color: '#000', font: tickFont, callback: tickLabel(i === 0) },
                    afterFit: s => { s.width = margin; }
                },
                yRight: {
                    min: 0, max: 2.5, position: 'right',
                    grid: { display: false, drawTicks: false },
                    border: { display: false },
                    ticks: { display: rightLabels, stepSize: 0.25, autoSkip: false, padding: 12, color: '#000', font: tickFont, callback: tickLabel(i === 3) },
                    afterFit: s => { s.width = margin; }
                }
            }
        },
        plugins: [panelDecor(i, left, top)]
    });
}

document.addEventListener('DOMContentLoaded', () => {
    for (let i = 0; i < panelTags.length; i++) createPanel(i);

    const page = document.getElementById('page');
    const yTitle = document.createElement('div');
    yTitle.className = 'axis-title';
    yTitle.textContent = 'MODIS Collection 6 Dark-Target (DT) AOD Observations at 10 km resolution [0.55 µm]';
    yTitle.style.left = '52px';
    yTitle.style.top = '1400px';
    yTitle.style.transform = 'translate(-50%, -50%) rotate(-90deg)';
    page.appendChild(yTitle);

    const xTitle = document.createElement('div');
    xTitle.className = 'axis-title';
    xTitle.textContent = 'AERONET Level 2.0 AOD Measurements [0.55 µm]';
    xTitle.style.left = '1946px';
    xTitle.style.top = '3694px';
    xTitle.style.transform = 'translate(-50%, -50%)';
    page.appendChild(xTitle);
});
</script>
</body>
</html>
